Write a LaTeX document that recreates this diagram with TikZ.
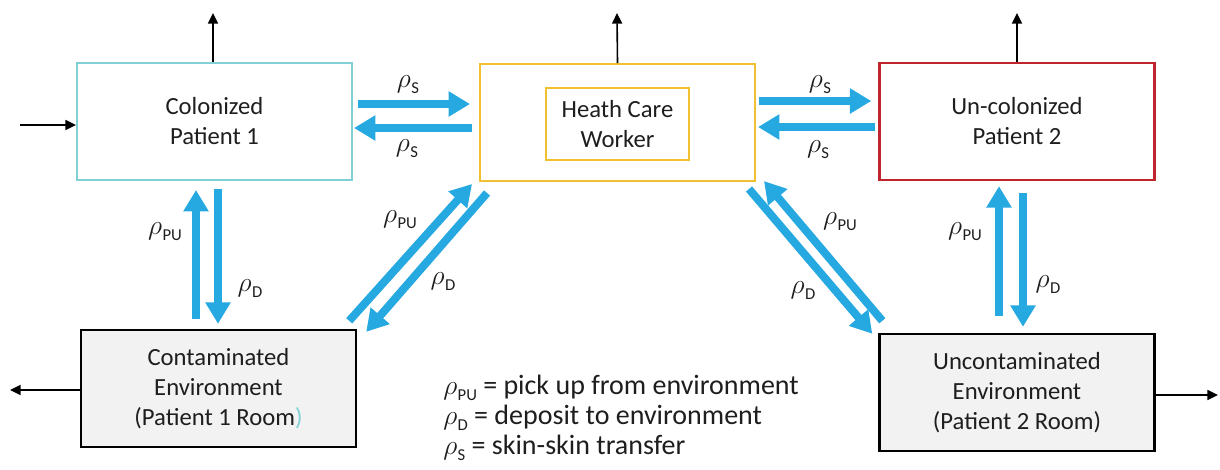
\documentclass[tikz,border=0pt]{standalone}
\usepackage{fontspec}
\setmainfont{Carlito}
\usetikzlibrary{arrows.meta,calc}
\definecolor{cpc}{RGB}{128,208,214}
\definecolor{hcwc}{RGB}{240,192,50}
\definecolor{p2c}{RGB}{192,36,44}
\definecolor{arrb}{RGB}{38,168,224}
\definecolor{envfill}{RGB}{242,242,242}
\definecolor{txt}{RGB}{30,30,30}
\newcommand{\rsub}[1]{$\rho$\kern0.3pt\raisebox{-0.45ex}{\fontsize{12.5}{13}\selectfont #1}}
\tikzset{
  box/.style={rectangle, inner sep=0pt, minimum width=206.25pt, minimum height=87.75pt, align=center,
    text=txt, font=\fontsize{18.5}{22.5}\selectfont, line width=1.5pt},
  envbox/.style={box, draw=black, fill=envfill, line width=1.8pt},
  bluearr/.style={draw=arrb, line width=6pt, -{Triangle[width=18pt,length=16pt]}},
  blackarr/.style={draw=black, line width=1.2pt, -{Triangle[width=7.5pt,length=8pt]}},
  rlabel/.style={text=txt, font=\fontsize{21}{22}\selectfont, inner sep=0pt},
}
\begin{document}
\begin{tikzpicture}[x=0.75pt,y=-0.75pt]
\useasboundingbox (0,0) rectangle (1220,469);

% boxes
\node[box, draw=cpc] (cp1) at (214.5,121.5) {Colonized\\Patient 1};
\node[box, draw=hcwc] (hcw) at (617.5,122.5) {};
\node[rectangle, draw=hcwc, line width=0.8pt, minimum width=107.25pt, minimum height=54pt, inner sep=0pt,
  align=center, text=txt, font=\fontsize{18.5}{22.5}\selectfont] (hcwin) at (617.5,124) {Heath Care\\Worker};
\node[box, draw=p2c, line width=1.8pt] (p2) at (1017,121.5) {Un-colonized\\Patient 2};
\node[envbox] (ce) at (218.5,388.5) {Contaminated\\Environment\\(Patient 1 Room\textcolor{cpc}{)}};
\node[envbox] (ue) at (1017,392.5) {Uncontaminated\\Environment\\(Patient 2 Room)};

% free ends of black arrows
\coordinate (o1) at (213,13);
\coordinate (o2) at (617,13);
\coordinate (o3) at (1017,13);
\coordinate (i1) at (20,125);
\coordinate (o4) at (10,390);
\coordinate (o5) at (1218,395);

\draw[blackarr] ($(cp1.north)+(-1.5,0)$) -- (o1);
\draw[blackarr] (hcw.north) -- (o2);
\draw[blackarr] (p2.north) -- (o3);
\draw[blackarr] (i1) -- ($(cp1.west)+(0,3.5)$);
\draw[blackarr] ($(ce.west)+(0,1.5)$) -- (o4);
\draw[blackarr] ($(ue.east)+(0,2.5)$) -- (o5);

% skin-skin
\draw[bluearr] ($(cp1.east)+(5,-17.5)$) -- ($(hcw.west)+(-9,-18.5)$);
\draw[bluearr] ($(hcw.west)+(-7,5.5)$) -- ($(cp1.east)+(1,6.5)$);
\draw[bluearr] ($(hcw.east)+(3,-21.5)$) -- ($(p2.west)+(-7,-20.5)$);
\draw[bluearr] ($(p2.west)+(-3,5.5)$) -- ($(hcw.east)+(2,4.5)$);

% patient 1 <-> environment 1
\draw[bluearr] ($(ce.north)+(-22.5,-10)$) -- ($(cp1.south)+(-18.5,9)$);
\draw[bluearr] ($(cp1.south)+(3.5,8)$) -- ($(ce.north)+(-0.5,-5)$);

% hcw <-> environment 1
\draw[bluearr] ($(ce.north east)+(-8,-8)$) -- ($(hcw.south west)+(-7,2)$);
\draw[bluearr] ($(hcw.south west)+(8,11)$) -- ($(ce.north east)+(9,3)$);

% hcw <-> environment 2
\draw[bluearr] ($(hcw.south east)+(-7,7)$) -- ($(ue.north west)+(-6,1)$);
\draw[bluearr] ($(ue.north west)+(4,-12)$) -- ($(hcw.south east)+(8,-1)$);

% patient 2 <-> environment 2
\draw[bluearr] ($(ue.north)+(-18,-17)$) -- ($(p2.south)+(-18,5)$);
\draw[bluearr] ($(p2.south)+(6,12)$) -- ($(ue.north)+(6,-6)$);

% labels
\node[rlabel] (l1) at (408,85) {\rsub{S}};
\node[rlabel] (l2) at (407,149) {\rsub{S}};
\node[rlabel] (l3) at (820,85) {\rsub{S}};
\node[rlabel] (l4) at (818,150) {\rsub{S}};
\node[rlabel] (l5) at (165,232) {\rsub{PU}};
\node[rlabel] (l6) at (250,289) {\rsub{D}};
\node[rlabel] (l7) at (400,220) {\rsub{PU}};
\node[rlabel] (l8) at (443,282) {\rsub{D}};
\node[rlabel] (l9) at (840,222) {\rsub{PU}};
\node[rlabel] (l10) at (803,291) {\rsub{D}};
\node[rlabel] (l11) at (965,232) {\rsub{PU}};
\node[rlabel] (l12) at (1048,285) {\rsub{D}};

% legend
\node[anchor=west, align=left, text=txt, inner sep=0pt, font=\fontsize{21}{22.5}\selectfont] (leg) at (443,418)
  {\rsub{PU} = pick up from environment\\ \rsub{D} = deposit to environment\\ \rsub{S} = skin-skin transfer};
\end{tikzpicture}
\end{document}
